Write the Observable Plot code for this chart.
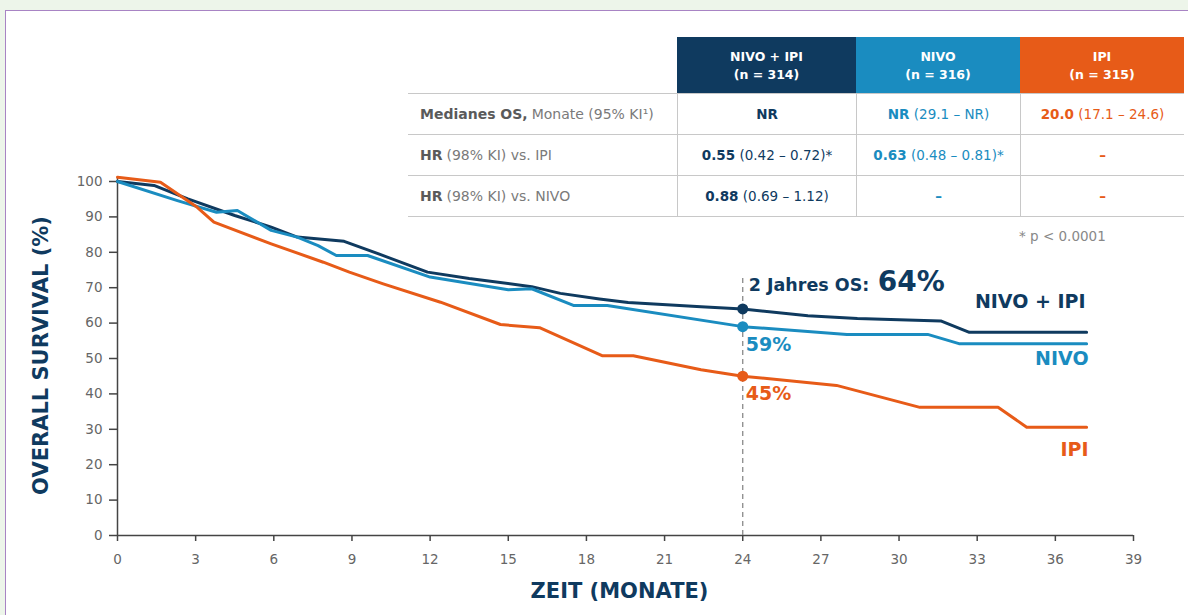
<!DOCTYPE html>
<html>
<head>
<meta charset="utf-8">
<script src="https://cdn.jsdelivr.net/npm/d3@7"></script>
<script src="https://cdn.jsdelivr.net/npm/@observablehq/plot@0.6"></script>
<style>
  html, body { margin: 0; padding: 0; }
  body { width: 1188px; height: 615px; overflow: hidden; position: relative; background: #edf5ea;
         font-family: "DejaVu Sans", sans-serif; }
  #frame { position: absolute; left: 5px; top: 10px; width: 1200px; height: 620px;
           border: 1.5px solid #a884c4; background: #fff; }
  #chart { position: absolute; left: 0; top: 0; }
  #tbl { position: absolute; left: 408px; top: 37px; }
  .row { display: flex; }
  .cell { box-sizing: border-box; display: flex; align-items: center; justify-content: center;
          font-size: 13.5px; text-align: center; white-space: nowrap; }
  .hdr .cell { height: 56px; color: #fff; font-weight: 700; font-size: 12.5px; line-height: 18px; flex-direction: column; padding-top: 2px; }
  .body .cell { height: 41px; border-bottom: 1.5px solid #c8c8c8; }
  .body .cell + .cell { border-left: 1.5px solid #c8c8c8; }
  .lab { justify-content: flex-start !important; padding-left: 12px; color: #7a7a7a; font-size: 14px !important; }
  .lab b { color: #5a5a5a; margin-right: 4px; }
  #note { position: absolute; left: 1019px; top: 228px; color: #888; font-size: 13.5px; }
</style>
</head>
<body>
<div id="frame"></div>
<div id="chart"></div>
<div id="tbl"></div>
<div id="note"></div>
<script>
// ---- data ----
const seriesNames = ["NIVO + IPI", "NIVO", "IPI"];
const seriesN = [314, 316, 315];
const colors = ["#0f3a5f", "#1a8cc0", "#e75b18"];

const monthsNivoIpi = [0, 1.4, 2.7, 4.5, 5.9, 6.9, 8.7, 10, 11.9, 13.5, 15.9, 17, 18.5, 19.6, 22.4, 24, 26.5, 28.4, 31.6, 32.7, 37.2];
const osNivoIpi     = [100, 98.9, 95.1, 90.4, 87.1, 84.3, 83.1, 79.6, 74.4, 72.6, 70.3, 68.4, 66.8, 65.8, 64.6, 64, 62.1, 61.3, 60.6, 57.4, 57.4];

const monthsNivo = [0, 2.3, 3.8, 4.6, 5.9, 6.9, 7.7, 8.4, 9.6, 12, 15, 15.9, 17.5, 18.8, 24, 28, 31.1, 32.3, 37.2];
const osNivo     = [100, 94.6, 91.3, 91.8, 86.2, 84.3, 81.9, 79.1, 79.1, 73, 69.4, 69.7, 65, 65, 59, 56.8, 56.8, 54.2, 54.2];

const monthsIpi = [0, 1.65, 3.06, 3.7, 5.9, 7.9, 8.9, 10.2, 12.4, 14.7, 16.2, 18.6, 19.8, 22.4, 24, 27.6, 30.8, 33.8, 34.9, 37.2];
const osIpi     = [101.2, 99.8, 92.7, 88.5, 82.4, 77.2, 74.4, 71.1, 65.9, 59.6, 58.7, 50.8, 50.8, 46.8, 45, 42.4, 36.2, 36.2, 30.6, 30.6];

const landmarkMonth = 24;
const landmarkOS = [64, 59, 45];
const landmarkTitle = "2 Jahres OS:";

const xTicks = [0, 3, 6, 9, 12, 15, 18, 21, 24, 27, 30, 33, 36, 39];
const yTicks = [0, 10, 20, 30, 40, 50, 60, 70, 80, 90, 100];
const xTitle = "ZEIT (MONATE)";
const yTitle = "OVERALL SURVIVAL (%)";

const rowLabelsBold = ["Medianes OS,", "HR", "HR"];
const rowLabelsRest = ["Monate (95% KI¹)", "(98% KI) vs. IPI", "(98% KI) vs. NIVO"];
const cellMain = [["NR", "NR", "20.0"], ["0.55", "0.63", "–"], ["0.88", "–", "–"]];
const cellCI   = [["", "(29.1 – NR)", "(17.1 – 24.6)"], ["(0.42 – 0.72)*", "(0.48 – 0.81)*", ""], ["(0.69 – 1.12)", "", ""]];
const footnote = "* p < 0.0001";

// ---- build ----
const rawSeries = [[monthsNivoIpi, osNivoIpi], [monthsNivo, osNivo], [monthsIpi, osIpi]];
const curves = rawSeries.flatMap(([m, o], i) => m.map((t, j) => ({series: seriesNames[i], month: t, os: o[j]})));
const lastPts = rawSeries.map(([m, o], i) => ({series: seriesNames[i], month: m[m.length - 1], os: o[o.length - 1]}));
const marks24 = landmarkOS.map((v, i) => ({series: seriesNames[i], month: landmarkMonth, os: v, label: v + "%"}));
const navy = colors[0];
const endDy = [-30, 15, 23];

const chart = Plot.plot({
  width: 1188, height: 615,
  marginLeft: 117, marginRight: 55, marginTop: 181, marginBottom: 80,
  style: {fontFamily: '"DejaVu Sans", sans-serif', fontSize: "13.5px", background: "transparent", overflow: "visible"},
  x: {domain: [0, 39], ticks: xTicks},
  y: {domain: [0, 100], ticks: yTicks},
  color: {domain: seriesNames, range: colors},
  marks: [
    Plot.axisX({ticks: xTicks, tickSize: 6, tickPadding: 13, label: null, stroke: "#444", fill: "#666", strokeWidth: 1.5}),
    Plot.axisY({ticks: yTicks, tickSize: 8, tickPadding: 7, label: null, stroke: "#444", fill: "#666", strokeWidth: 1.5}),
    Plot.ruleY([0], {x1: 0, x2: 39, stroke: "#444", strokeWidth: 1.5}),
    Plot.ruleX([0], {y1: 0, y2: 101, stroke: "#444", strokeWidth: 1.5}),
    Plot.ruleX([landmarkMonth], {y1: 0, y2: 73, stroke: "#8a8a8a", strokeWidth: 1.3, strokeDasharray: "5,4"}),
    Plot.line(curves, {x: "month", y: "os", z: "series", stroke: "series", strokeWidth: 3, curve: "linear"}),
    Plot.dot(marks24, {x: "month", y: "os", fill: "series", r: 5.5, stroke: "none"}),
    Plot.text(marks24.slice(1), {x: "month", y: "os", text: "label", fill: "series", textAnchor: "start", dx: 3, dy: 18, fontSize: 19, fontWeight: 700}),
    Plot.text([marks24[0]], {x: "month", y: "os", text: () => landmarkTitle, fill: navy, textAnchor: "start", dx: 6, dy: -24, fontSize: 17.5, fontWeight: 700}),
    Plot.text([marks24[0]], {x: "month", y: "os", text: "label", fill: navy, textAnchor: "start", dx: 135, dy: -27, fontSize: 28, fontWeight: 700}),
    ...lastPts.map((p, i) => Plot.text([p], {x: "month", y: "os", text: "series", fill: colors[i], textAnchor: "end", dx: i === 0 ? -1 : 2, dy: endDy[i], fontSize: 19, fontWeight: 700})),
    Plot.text([yTitle], {frameAnchor: "left", rotate: -90, textAnchor: "middle", dx: -76, dy: -3, fill: navy, fontSize: 21, fontWeight: 700}),
    Plot.text([xTitle], {frameAnchor: "bottom", textAnchor: "middle", dy: 62, dx: -6, fill: navy, fontSize: 21, fontWeight: 700})
  ]
});
document.getElementById("chart").appendChild(chart);

// table
const tbl = document.getElementById("tbl");
const widths = [269, 179, 164, 164];
const hdr = document.createElement("div"); hdr.className = "row hdr";
const blank = document.createElement("div"); blank.className = "cell"; blank.style.width = widths[0] + "px"; hdr.appendChild(blank);
seriesNames.forEach((s, i) => {
  const c = document.createElement("div"); c.className = "cell";
  c.style.width = widths[i + 1] + "px"; c.style.background = colors[i];
  c.innerHTML = `<div>${s}</div><div>(n = ${seriesN[i]})</div>`;
  hdr.appendChild(c);
});
tbl.appendChild(hdr);
const body = document.createElement("div"); body.className = "body";
body.style.borderTop = "1.5px solid #c8c8c8";
rowLabelsBold.forEach((b, r) => {
  const row = document.createElement("div"); row.className = "row";
  const l = document.createElement("div"); l.className = "cell lab"; l.style.width = widths[0] + "px";
  l.innerHTML = `<b>${b}</b>${rowLabelsRest[r]}`;
  row.appendChild(l);
  seriesNames.forEach((s, i) => {
    const c = document.createElement("div"); c.className = "cell"; c.style.width = widths[i + 1] + "px";
    c.style.color = colors[i];
    const ci = cellCI[r][i];
    c.innerHTML = `<b>${cellMain[r][i]}</b>${ci ? "&nbsp;" + ci : ""}`;
    row.appendChild(c);
  });
  body.appendChild(row);
});
tbl.appendChild(body);
document.getElementById("note").textContent = footnote;
</script>
</body>
</html>
